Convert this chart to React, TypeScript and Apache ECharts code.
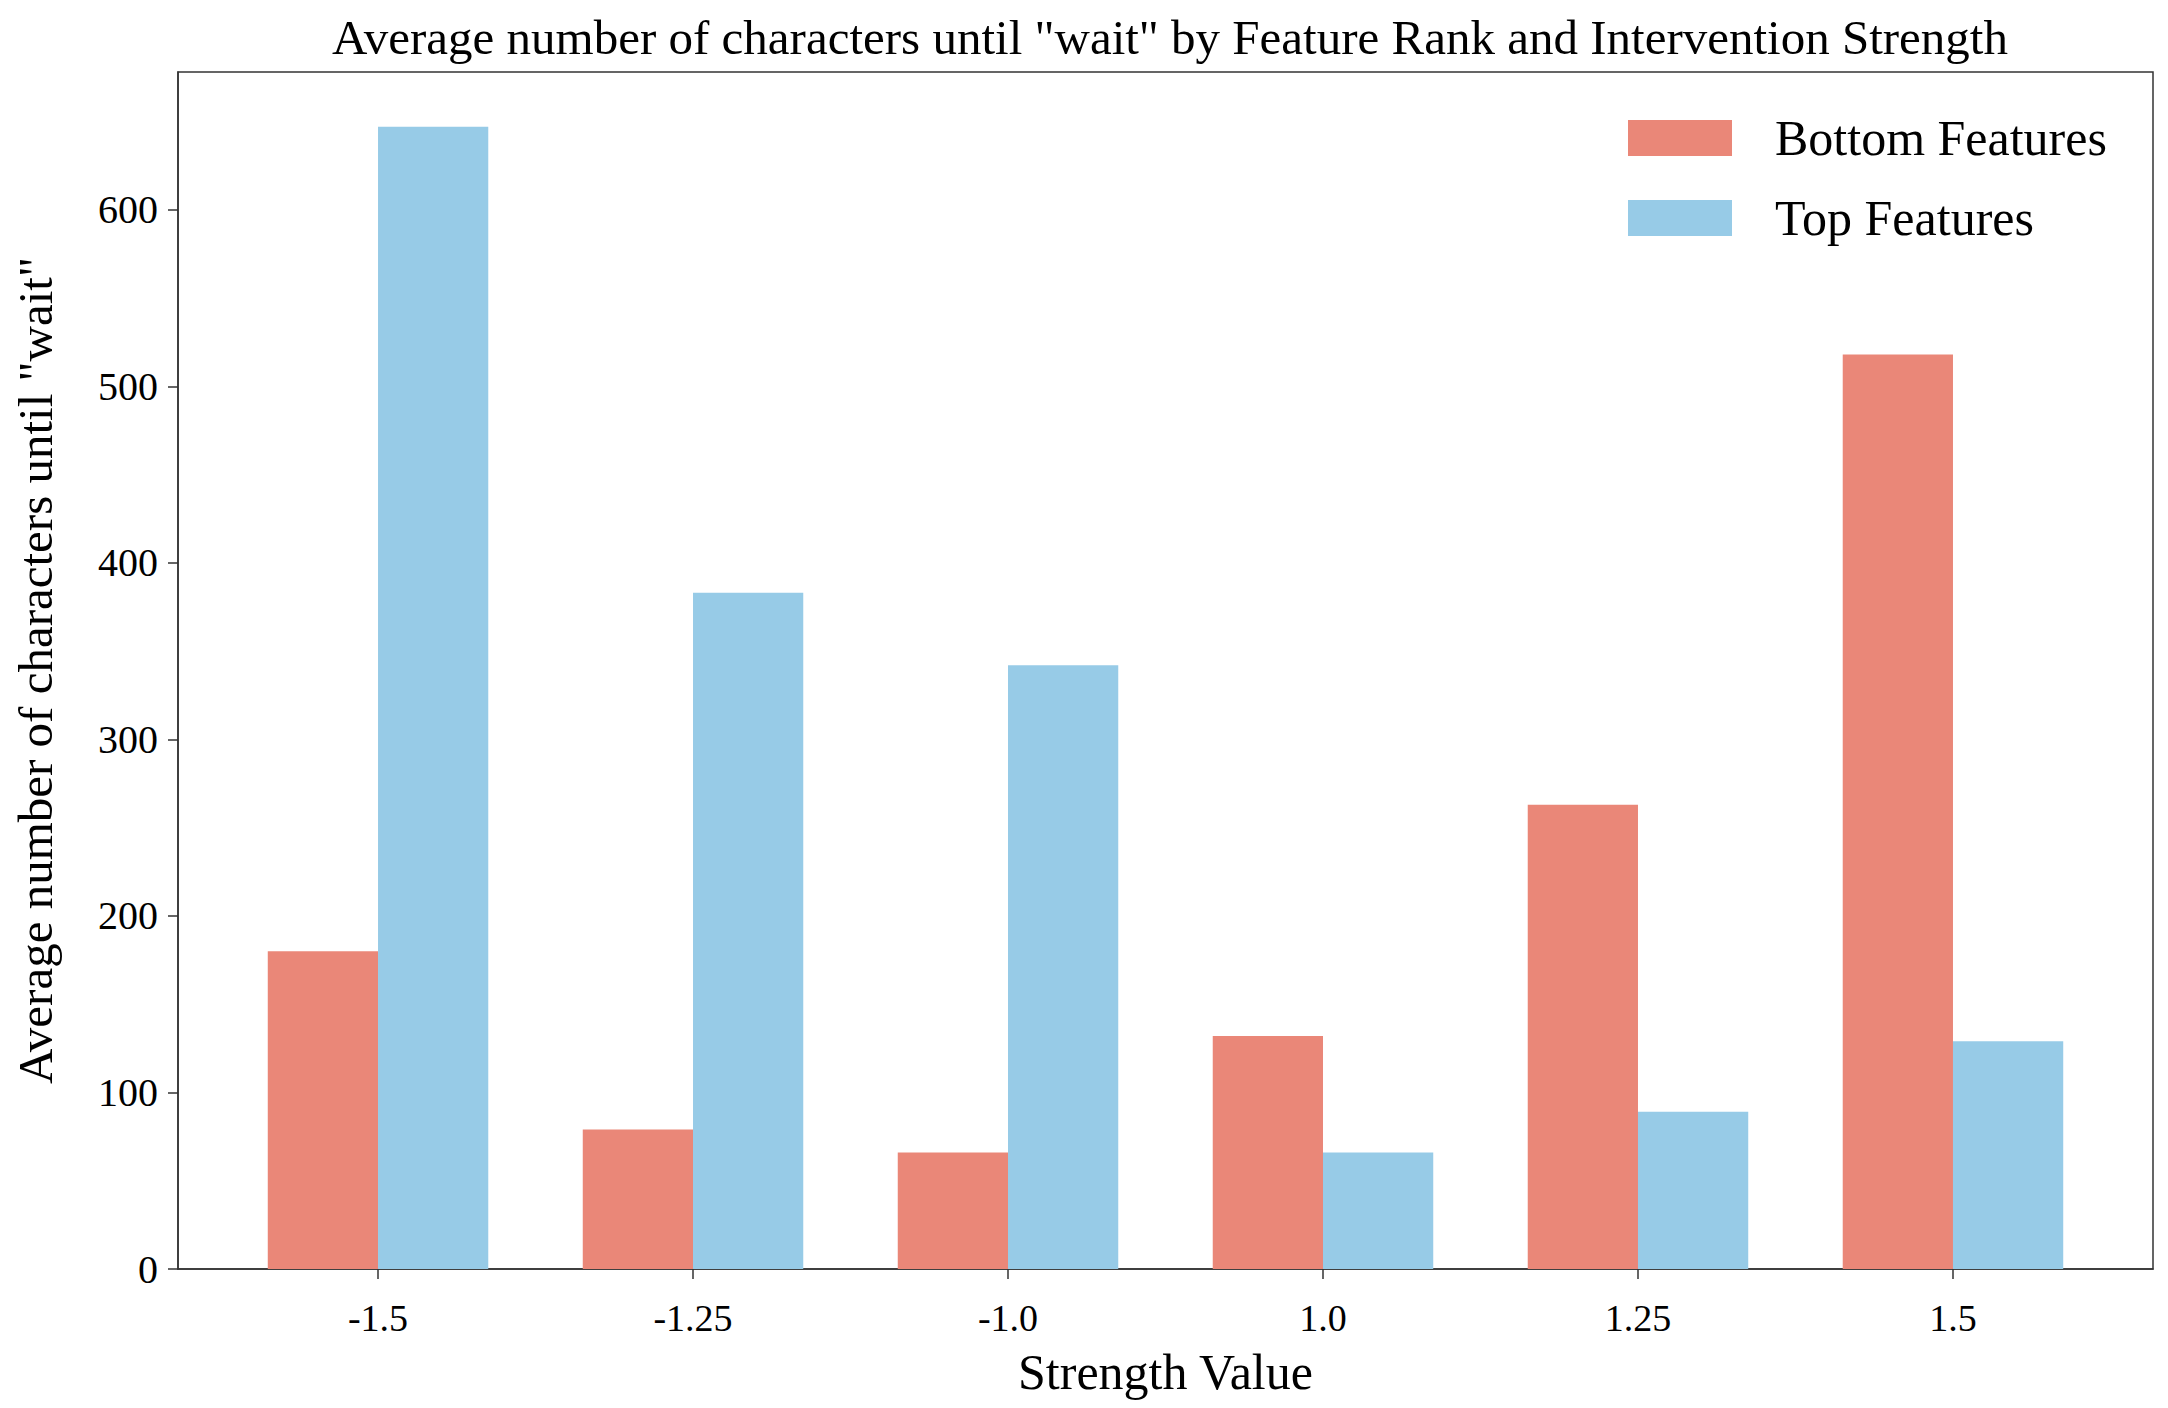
import React, { useEffect, useRef } from "react";
import * as echarts from "echarts";

const categories = ["-1.5", "-1.25", "-1.0", "1.0", "1.25", "1.5"];
const bottomFeatures = [180, 79, 66, 132, 263, 518];
const topFeatures = [647, 383, 342, 66, 89, 129];
const yTicks = [0, 100, 200, 300, 400, 500, 600];
const xTickPositions = [0, 1, 2, 3, 4, 5];

const FONT = "'Liberation Serif', 'DejaVu Serif', serif";
const RED = "#EA8778";
const BLUE = "#97CBE7";

export default function App() {
  const ref = useRef<HTMLDivElement>(null);
  useEffect(() => {
    if (!ref.current) return;
    const chart = echarts.init(ref.current, null, { renderer: "svg" });
    chart.setOption({
      animation: false,
      backgroundColor: "#ffffff",
      title: {
        text: 'Average number of characters until "wait" by Feature Rank and Intervention Strength',
        left: 1165,
        textAlign: "center",
        top: 8,
        textStyle: { fontFamily: FONT, fontSize: 49, fontWeight: "normal", color: "#000" },
      },
      legend: {
        orient: "vertical",
        left: 1623,
        top: 108,
        itemWidth: 104,
        itemHeight: 36,
        itemGap: 30,
        icon: "rect",
        textStyle: { fontFamily: FONT, fontSize: 50, color: "#000", padding: [0, 0, 0, 38] },
        data: ["Bottom Features", "Top Features"],
      },
      grid: {
        left: 178,
        right: 15,
        top: 72,
        bottom: 139,
        show: true,
        borderColor: "#333",
        borderWidth: 1.5,
        backgroundColor: "transparent",
      },
      xAxis: {
        type: "value",
        min: -0.635,
        max: 5.635,
        name: "Strength Value",
        nameLocation: "middle",
        nameGap: 78,
        nameTextStyle: { fontFamily: FONT, fontSize: 50, color: "#000" },
        axisLine: { show: true, onZero: false, lineStyle: { color: "#333", width: 1.5 } },
        axisTick: { show: true, length: 10, customValues: xTickPositions, lineStyle: { color: "#333", width: 1.5 } },
        axisLabel: {
          customValues: xTickPositions,
          margin: 30,
          fontFamily: FONT,
          fontSize: 38,
          color: "#000",
          formatter: (v: number) => categories[Math.round(v)] ?? "",
        },
        splitLine: { show: false },
      },
      yAxis: {
        type: "value",
        min: 0,
        max: 678,
        name: 'Average number of characters until "wait"',
        nameLocation: "middle",
        nameGap: 118,
        nameTextStyle: { fontFamily: FONT, fontSize: 49, color: "#000" },
        axisLine: { show: true, onZero: false, lineStyle: { color: "#333", width: 1.5 } },
        axisTick: { show: true, length: 10, customValues: yTicks, lineStyle: { color: "#333", width: 1.5 } },
        axisLabel: {
          customValues: yTicks,
          margin: 20,
          fontFamily: FONT,
          fontSize: 40,
          color: "#000",
        },
        splitLine: { show: false },
      },
      series: [
        {
          name: "Bottom Features",
          type: "bar",
          barWidth: "35%",
          barGap: "0%",
          itemStyle: { color: RED },
          data: bottomFeatures.map((v, i) => [xTickPositions[i], v]),
        },
        {
          name: "Top Features",
          type: "bar",
          barWidth: "35%",
          barGap: "0%",
          itemStyle: { color: BLUE },
          data: topFeatures.map((v, i) => [xTickPositions[i], v]),
        },
      ],
    });
    return () => chart.dispose();
  }, []);
  return (
    <div
      ref={ref}
      style={{ position: "fixed", left: 0, top: 0, width: 2168, height: 1408 }}
    />
  );
}
